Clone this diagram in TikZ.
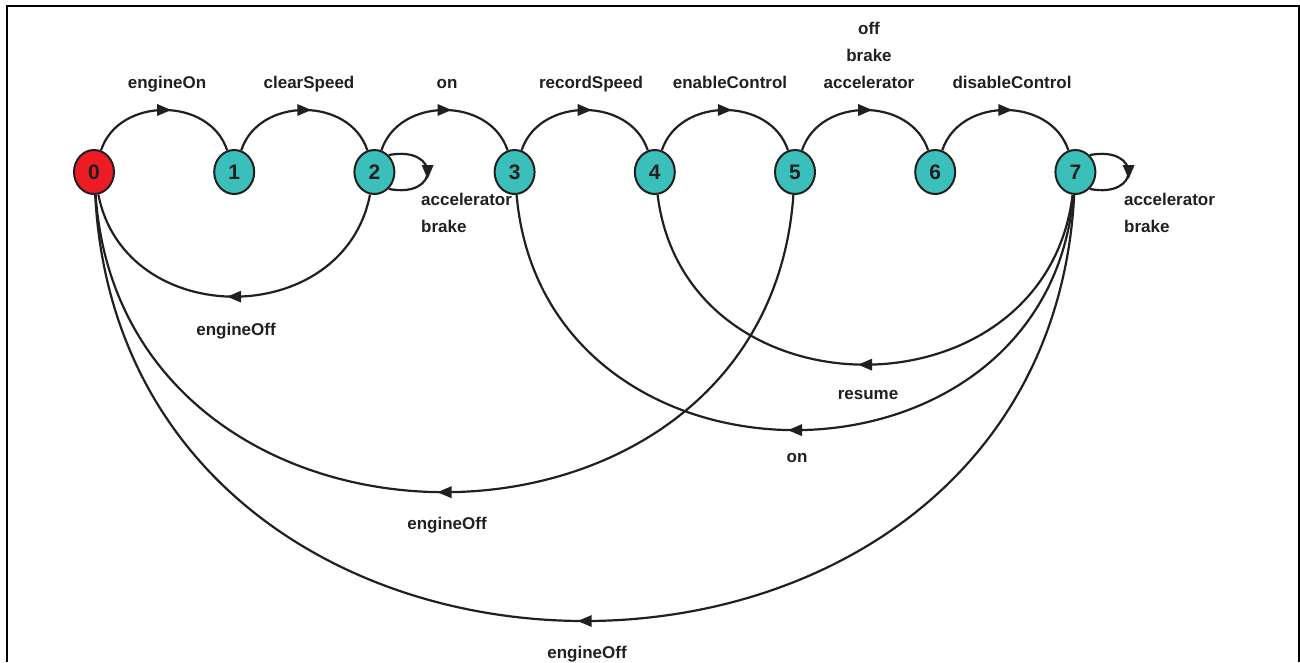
\documentclass[tikz,border=0pt]{standalone}
\usepackage{fontspec}
\setmainfont{Liberation Sans}
\usetikzlibrary{arrows.meta,shapes.geometric,decorations.markings}
\definecolor{ink}{HTML}{231F20}
\definecolor{redst}{HTML}{ED1C24}
\definecolor{tealst}{HTML}{3BBFBA}
\begin{document}
\begin{tikzpicture}[x=1pt,y=1pt,
  st/.style={ellipse,draw=ink,line width=2pt,minimum width=40pt,minimum height=44pt,inner sep=0pt,
    font=\fontsize{21}{21}\selectfont\bfseries,text=ink},
  lbl/.style={font=\fontsize{17}{27}\selectfont\bfseries,text=ink,align=center,anchor=base,inner sep=0pt},
  trans/.style={draw=ink,line width=2.2pt,postaction={decorate},
    decoration={markings,mark=at position 0.5 with {\fill[ink] (7pt,0pt) -- (-7pt,6pt) -- (-7pt,-6pt) -- cycle;}}},
  arcup/.style={out=72,in=108,looseness=1.15}
]
\useasboundingbox (0,0) rectangle (1300,-662);
\draw[black,line width=2.4pt] (7,-662) -- (7,-6) -- (1299,-6) -- (1299,-662);

% states
\node[st,fill=redst]  (n0) at (94,-172)     {0};
\node[st,fill=tealst] (n1) at (234.2,-172)  {1};
\node[st,fill=tealst] (n2) at (374.4,-172)  {2};
\node[st,fill=tealst] (n3) at (514.6,-172)  {3};
\node[st,fill=tealst] (n4) at (654.8,-172)  {4};
\node[st,fill=tealst] (n5) at (795,-172)    {5};
\node[st,fill=tealst] (n6) at (935.2,-172)  {6};
\node[st,fill=tealst] (n7) at (1075.4,-172) {7};

% forward transitions
\draw[trans] (n0) to[arcup] (n1);
\draw[trans] (n1) to[arcup] (n2);
\draw[trans] (n2) to[arcup] (n3);
\draw[trans] (n3) to[arcup] (n4);
\draw[trans] (n4) to[arcup] (n5);
\draw[trans] (n5) to[arcup] (n6);
\draw[trans] (n6) to[arcup] (n7);

% self loops
\draw[trans] (n2.50) .. controls +(52,10) and +(52,-10) .. (n2.-50);
\draw[trans] (n7.50) .. controls +(52,10) and +(52,-10) .. (n7.-50);

% backward transitions
\draw[trans] (n2) to[out=-101,in=-79,looseness=1.31] (n0);
\draw[trans] (n7) to[out=-97,in=-83,looseness=1.41] (n4);
\draw[trans] (n7) to[out=-95,in=-85,looseness=1.45] (n3);
\draw[trans] (n5) to[out=-94,in=-86,looseness=1.46] (n0);
\draw[trans] (n7) to[out=-93,in=-87,looseness=1.49] (n0);

% labels
\node[lbl] (l01) at (167,-88) {engineOn};
\node[lbl] (l12) at (309,-88) {clearSpeed};
\node[lbl] (l23) at (447,-88) {on};
\node[lbl] (l34) at (591,-88) {recordSpeed};
\node[lbl] (l45) at (730,-88) {enableControl};
\node[lbl] (l56) at (869,-88) {off\\brake\\accelerator};
\node[lbl] (l67) at (1012,-88) {disableControl};
\node[lbl,align=left,anchor=base west] (l22) at (421,-232) {accelerator\\brake};
\node[lbl,align=left,anchor=base west] (l77) at (1124,-232) {accelerator\\brake};
\node[lbl] (l20) at (236,-335) {engineOff};
\node[lbl] (l74) at (868,-399) {resume};
\node[lbl] (l73) at (797,-462) {on};
\node[lbl] (l50) at (447,-529) {engineOff};
\node[lbl] (l70) at (587,-658) {engineOff};
\end{tikzpicture}
\end{document}
